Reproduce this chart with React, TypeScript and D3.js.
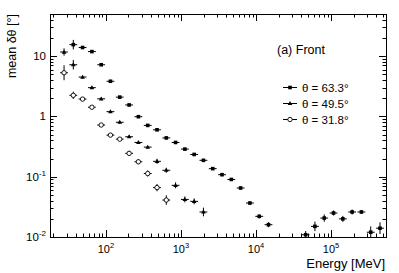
import React from 'react'
import * as d3 from 'd3'

// energy bin centres [MeV], one per bin index
const binEnergies = [
  27.7, 36.8, 48.9, 65.1, 86.6, 115, 153, 204, 271, 361, 480, 638, 848, 1128,
  1500, 1994, 2653, 3528, 4690, 6240, 8300, 11040, 14680, 19520, 25970, 34540,
  45900, 61000, 81200, 108000, 143600, 191000, 254000, 338000, 449000
]

// theta = 63.3 deg
const s1Bins = [1, 2, 3, 4, 5, 6, 7, 8, 9, 10, 11, 12, 13, 14, 15, 16, 17, 18, 19, 20, 21, 22, 26, 27, 28, 29, 30, 31, 32, 33, 34]
const s1Values = [15.5, 13.9, 11.9, 7.2, 3.83, 2.09, 1.55, 0.99, 0.71, 0.6, 0.44, 0.37, 0.287, 0.234, 0.187, 0.136, 0.108, 0.09, 0.065, 0.0366, 0.022, 0.016, 0.0109, 0.015, 0.0206, 0.025, 0.02, 0.026, 0.026, 0.012, 0.014]
const s1Errors = [0.2, 0.05, 0.05, 0.04, 0.04, 0.04, 0.04, 0.04, 0.04, 0.04, 0.04, 0.04, 0.04, 0.04, 0.04, 0.04, 0.04, 0.04, 0.05, 0.06, 0.08, 0.1, 0.15, 0.2, 0.15, 0.1, 0.12, 0.1, 0.08, 0.25, 0.25]

// theta = 49.5 deg
const s2Bins = [0, 1, 2, 3, 4, 5, 6, 7, 8, 9, 10, 11, 12, 13, 14, 15]
const s2Values = [11.7, 7.2, 4.5, 3.0, 1.96, 1.2, 0.8, 0.46, 0.37, 0.31, 0.18, 0.128, 0.072, 0.042, 0.039, 0.026]
const s2Errors = [0.15, 0.2, 0.06, 0.05, 0.05, 0.05, 0.05, 0.05, 0.05, 0.05, 0.1, 0.1, 0.12, 0.12, 0.12, 0.18]

// theta = 31.8 deg
const s3Bins = [0, 1, 2, 3, 4, 5, 6, 7, 8, 9, 10, 11]
const s3Values = [5.3, 2.24, 1.94, 1.42, 0.72, 0.49, 0.42, 0.244, 0.177, 0.113, 0.066, 0.041]
const s3Errors = [0.33, 0.15, 0.05, 0.05, 0.06, 0.06, 0.06, 0.1, 0.1, 0.12, 0.15, 0.2]

const seriesLabels = ['θ = 63.3°', 'θ = 49.5°', 'θ = 31.8°']
const xTickExps = [2, 3, 4, 5]
const yTickExps = [-2, -1, 0, 1]

const W = 399
const H = 273
const margin = { left: 50, top: 14, right: 13, bottom: 36 }
const binHalf = 0.052 // half bin width, decades
const font = 'Liberation Sans, Arial, Helvetica, sans-serif'

const Marker = ({ kind, x, y }) => {
  if (kind === 0) return <rect x={x - 1.8} y={y - 1.8} width={3.6} height={3.6} fill="#000" />
  if (kind === 1)
    return <path d={`M${x},${y - 2.4}L${x + 2.3},${y + 1.6}L${x - 2.3},${y + 1.6}Z`} fill="#000" />
  return <circle cx={x} cy={y} r={2.2} fill="#fff" stroke="#000" strokeWidth={0.9} />
}

export default function App() {
  const x = d3.scaleLog().domain([18, 5.4e5]).range([margin.left, W - margin.right])
  const y = d3.scaleLog().domain([0.01, 50]).range([H - margin.bottom, margin.top])
  const [x0, x1] = x.range()
  const [y0, y1] = y.range()

  const series = [
    { bins: s1Bins, values: s1Values, errors: s1Errors },
    { bins: s2Bins, values: s2Values, errors: s2Errors },
    { bins: s3Bins, values: s3Values, errors: s3Errors }
  ]

  const isMajor = v => Math.abs(Math.log10(v) - Math.round(Math.log10(v))) < 1e-6
  const xTicks = x.ticks()
  const yTicks = y.ticks()

  return (
    <svg width={W} height={H} style={{ position: 'absolute', left: 0, top: 0 }} fontFamily={font}>
      <defs>
        <clipPath id="plot">
          <rect x={x0} y={y1} width={x1 - x0} height={y0 - y1} />
        </clipPath>
      </defs>
      <rect width={W} height={H} fill="#fff" />

      {/* ticks on all four sides */}
      <g stroke="#000" strokeWidth={1}>
        {xTicks.map((t, i) => {
          const len = isMajor(t) ? 7 : 3.5
          const px = Math.round(x(t)) + 0.5
          return (
            <g key={'xt' + i}>
              <line x1={px} x2={px} y1={y0} y2={y0 - len} />
              <line x1={px} x2={px} y1={y1} y2={y1 + len} />
            </g>
          )
        })}
        {yTicks.map((t, i) => {
          const len = isMajor(t) ? 7 : 3.5
          const py = Math.round(y(t)) + 0.5
          return (
            <g key={'yt' + i}>
              <line x1={x0} x2={x0 + len} y1={py} y2={py} />
              <line x1={x1} x2={x1 - len} y1={py} y2={py} />
            </g>
          )
        })}
      </g>
      <rect x={x0 + 0.5} y={y1 + 0.5} width={x1 - x0} height={y0 - y1} fill="none" stroke="#000" strokeWidth={1} />

      {/* tick labels */}
      <g fontSize={11} fill="#000">
        {xTickExps.map(e => (
          <text key={'xl' + e} x={x(10 ** e)} y={253} textAnchor="middle">
            10<tspan dy={-5} fontSize={7.5}>{e}</tspan>
          </text>
        ))}
      </g>
      <g fontSize={11.5} fill="#000">
        {yTickExps.map(e => (
          <text key={'yl' + e} x={46} y={y(10 ** e) + 4} textAnchor="end">
            {e === 0 ? '1' : '10'}
            {e !== 0 && e !== 1 ? <tspan dy={-5} fontSize={8}>{e}</tspan> : null}
          </text>
        ))}
      </g>

      <text x={385} y={267.5} textAnchor="end" fontSize={13}>Energy [MeV]</text>
      <text transform={`translate(16,${y1}) rotate(-90)`} textAnchor="end" fontSize={12.5}>
        mean δθ [°]
      </text>
      <text x={277} y={54} fontSize={12.5}>(a) Front</text>

      {/* data points with error bars */}
      <g clipPath="url(#plot)">
        {series.map((s, si) =>
          s.bins.map((b, i) => {
            const e = binEnergies[b]
            const v = s.values[i]
            const px = x(e)
            const py = y(v)
            return (
              <g key={`p${si}-${i}`}>
                <line x1={x(e * 10 ** -binHalf)} x2={x(e * 10 ** binHalf)} y1={py} y2={py} stroke="#000" strokeWidth={1} />
                <line x1={px} x2={px} y1={y(v * (1 + s.errors[i]))} y2={y(v / (1 + s.errors[i]))} stroke="#000" strokeWidth={1} />
                <Marker kind={si} x={px} y={py} />
              </g>
            )
          })
        )}
      </g>

      {/* legend */}
      {seriesLabels.map((lab, i) => {
        const ly = 87.5 + i * 16
        return (
          <g key={'lg' + i}>
            <line x1={283} x2={297} y1={ly} y2={ly} stroke="#000" strokeWidth={1} />
            <Marker kind={i} x={290} y={ly} />
            <text x={302} y={ly + 4.2} fontSize={11.5}>{lab}</text>
          </g>
        )
      })}
    </svg>
  )
}
